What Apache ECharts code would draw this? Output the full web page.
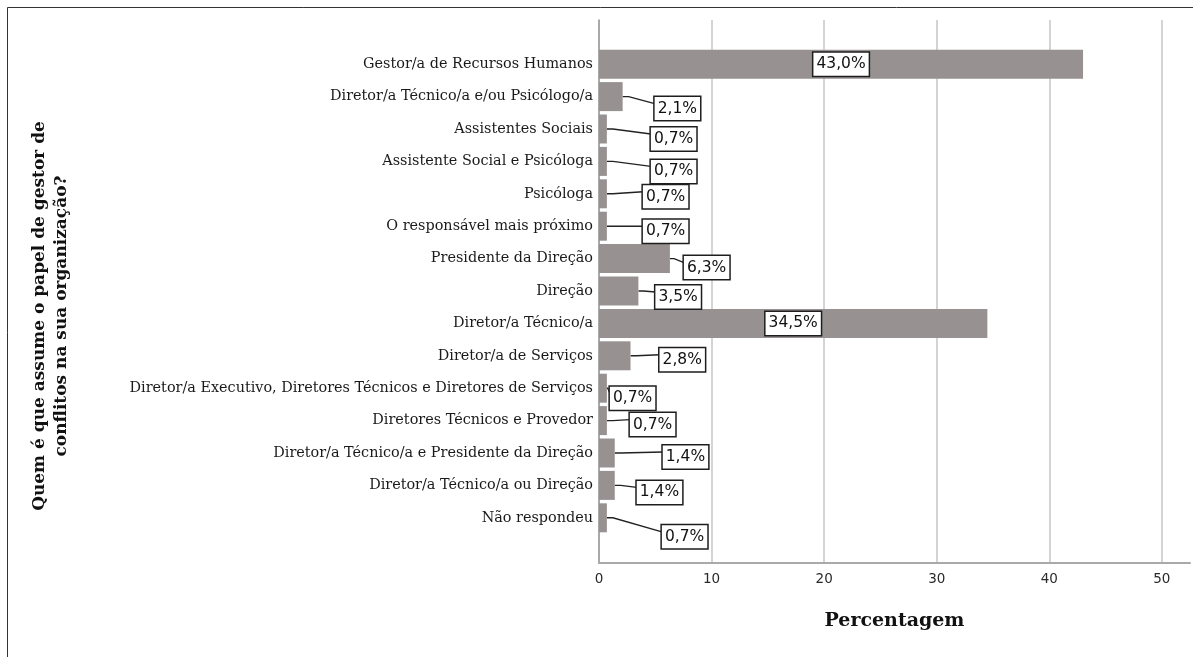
<!DOCTYPE html>
<html>
<head>
<meta charset="utf-8">
<style>
  html, body { margin: 0; padding: 0; background: #fff; }
  #chart { width: 1193px; height: 657px; }
</style>
<script src="https://cdn.jsdelivr.net/npm/echarts@6/dist/echarts.min.js"></script>
</head>
<body>
<div id="chart"></div>
<script>
// Who takes on the role of conflict manager (percent of organisations)
const categories = [
  'Gestor/a de Recursos Humanos',
  'Diretor/a Técnico/a e/ou Psicólogo/a',
  'Assistentes Sociais',
  'Assistente Social e Psicóloga',
  'Psicóloga',
  'O responsável mais próximo',
  'Presidente da Direção',
  'Direção',
  'Diretor/a Técnico/a',
  'Diretor/a de Serviços',
  'Diretor/a Executivo, Diretores Técnicos e Diretores de Serviços',
  'Diretores Técnicos e Provedor',
  'Diretor/a Técnico/a e Presidente da Direção',
  'Diretor/a Técnico/a ou Direção',
  'Não respondeu'
];
const percentages = [43.0, 2.1, 0.7, 0.7, 0.7, 0.7, 6.3, 3.5, 34.5, 2.8, 0.7, 0.7, 1.4, 1.4, 0.7];
const xTicks = [0, 10, 20, 30, 40, 50];

// label callout nudges (px) for the small bars, label placed right of the bar
const labelDx = [0, 32, 44, 44, 36, 36, 14, 17, 0, 29, 3, 23, 48, 22, 55];
const labelDy = [0, 12, 10, 10, 3, 5, 9, 6, 0, 4, 10, 4, 4, 7, 19];

const AXIS_MAX = 52.5;
const LABEL_HALF_H = 12;
const fmt = v => v.toFixed(1).replace('.', ',') + '%';

const chart = echarts.init(document.getElementById('chart'), null, { renderer: 'canvas' });

const barData = percentages.map(v => ({
  value: v,
  label: v > 20 ? { position: 'inside' } : { position: 'right', distance: 0 }
}));

// leader lines: from the middle of the bar end, a short run, then to the upper part of the box
function renderLeader(params, api) {
  const i = params.dataIndex;
  const dx = labelDx[i], dy = labelDy[i];
  if (!dx && !dy) return null;
  const p = api.coord([api.value(0), api.value(1)]);
  const sx = p[0], sy = p[1];
  const ex = sx + dx, ey = sy + dy - LABEL_HALF_H + 7;
  const mx = sx + Math.min(6, dx * 0.3);
  return {
    type: 'polyline',
    shape: { points: [[sx, sy], [mx, sy], [ex, ey]] },
    style: { stroke: '#222', lineWidth: 1.4, fill: null }
  };
}

chart.setOption({
  animation: false,
  backgroundColor: '#ffffff',
  grid: [
    { left: 599, right: 3, top: 20, bottom: 94 },
    { left: 599, right: 3, top: 48, bottom: 123 }
  ],
  xAxis: [
    {
      gridIndex: 0,
      type: 'value',
      min: xTicks[0],
      max: AXIS_MAX,
      interval: xTicks[1] - xTicks[0],
      axisLine: { show: true, lineStyle: { color: '#a9a9a9', width: 2 } },
      axisTick: { show: false },
      axisLabel: {
        showMaxLabel: false,
        margin: 9,
        color: '#2a2a2a',
        fontFamily: 'DejaVu Sans',
        fontSize: 13.5,
        formatter: v => (xTicks.indexOf(v) >= 0 ? String(v) : '')
      },
      splitLine: { show: true, showMinLine: false, showMaxLine: false, lineStyle: { color: '#d4d4d4', width: 2 } },
      name: 'Percentagem',
      nameLocation: 'middle',
      nameGap: 49,
      nameTextStyle: { fontFamily: 'DejaVu Serif', fontWeight: 'bold', fontSize: 19, color: '#111' }
    },
    {
      gridIndex: 1,
      type: 'value',
      min: 0,
      max: AXIS_MAX,
      show: false
    }
  ],
  yAxis: [
    {
      gridIndex: 0,
      type: 'value',
      min: 0,
      max: 1,
      axisLine: { show: true, lineStyle: { color: '#8c8c8c', width: 1.5 } },
      axisTick: { show: false },
      axisLabel: { show: false },
      splitLine: { show: false }
    },
    {
      gridIndex: 1,
      type: 'category',
      data: categories,
      inverse: true,
      axisLine: { show: false },
      axisTick: { show: false },
      splitLine: { show: false },
      axisLabel: {
        margin: 6,
        color: '#1a1a1a',
        fontFamily: 'DejaVu Serif',
        fontSize: 14.4
      }
    }
  ],
  series: [
    {
      type: 'custom',
      xAxisIndex: 1,
      yAxisIndex: 1,
      z: 1,
      silent: true,
      encode: { x: 0, y: 1 },
      data: percentages.map((v, i) => [v, i]),
      renderItem: renderLeader
    },
    {
      type: 'bar',
      xAxisIndex: 1,
      yAxisIndex: 1,
      z: 2,
      barWidth: 29,
      data: barData,
      itemStyle: { color: '#979291' },
      label: {
        show: true,
        formatter: p => fmt(p.value),
        fontFamily: 'DejaVu Sans',
        fontSize: 15.5,
        color: '#111',
        backgroundColor: '#ffffff',
        borderColor: '#1e1e1e',
        borderWidth: 1.5,
        padding: [4, 3, 3, 3]
      },
      labelLayout: p => ({ dx: labelDx[p.dataIndex], dy: labelDy[p.dataIndex] })
    }
  ],
  graphic: [
    { type: 'line', shape: { x1: 7.5, y1: 7.5, x2: 1193, y2: 7.5 }, style: { stroke: '#333', lineWidth: 1 } },
    { type: 'line', shape: { x1: 7.5, y1: 7.5, x2: 7.5, y2: 657 }, style: { stroke: '#333', lineWidth: 1 } },
    {
      type: 'text',
      x: 51,
      y: 316,
      rotation: Math.PI / 2,
      style: {
        text: 'Quem é que assume o papel de gestor de\nconflitos na sua organização?',
        font: 'bold 17px "DejaVu Serif"',
        fill: '#111',
        align: 'center',
        verticalAlign: 'middle',
        lineHeight: 22
      }
    }
  ]
});
</script>
</body>
</html>
